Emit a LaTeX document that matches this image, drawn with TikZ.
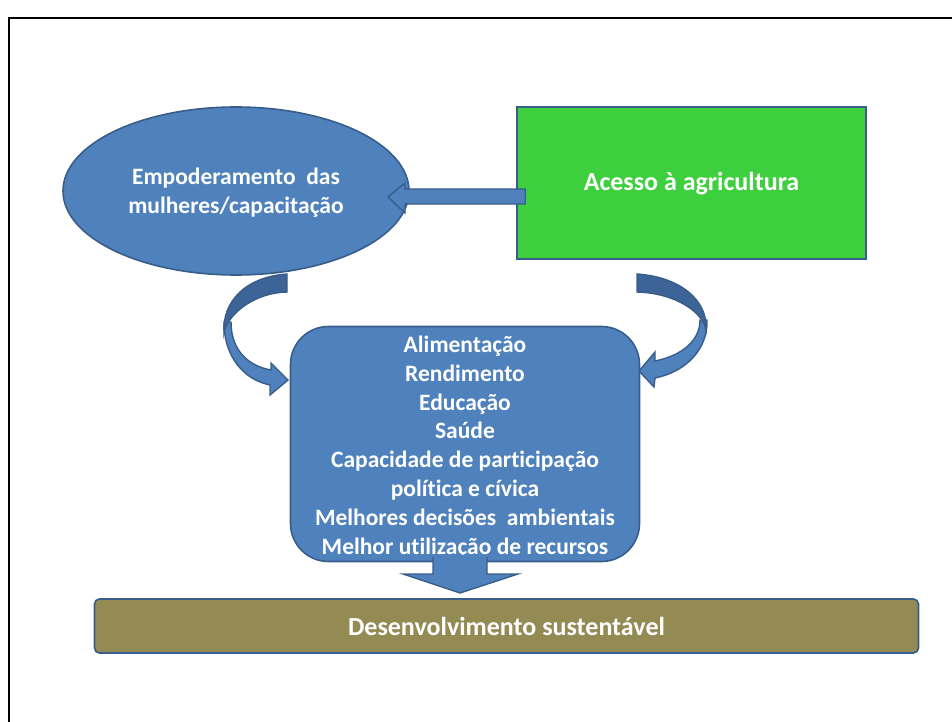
\documentclass[tikz,border=0pt]{standalone}
\usepackage{fontspec}
\setmainfont{Carlito}[Ligatures={NoCommon}]
\usetikzlibrary{shapes.geometric}
\definecolor{blfill}{RGB}{79,129,189}
\definecolor{bldraw}{RGB}{56,93,138}
\definecolor{bldark}{RGB}{60,100,150}
\definecolor{grfill}{RGB}{62,207,62}
\definecolor{brfill}{RGB}{148,138,84}
\tikzset{
  shapebox/.style={draw=bldraw, line width=1.6, inner sep=0},
  label text/.style={text=white, align=center, inner sep=0},
  blockarrow/.style={draw=bldraw, line width=1.4, fill=blfill, line join=miter},
  darkarrow/.style={draw=bldraw, line width=1.4, fill=bldark, line join=miter},
  listfont/.style={font=\bfseries\fontsize{23.5}{28.85}\selectfont},
  bigfont/.style={font=\bfseries\fontsize{26}{31}\selectfont}
}
\begin{document}
\begin{tikzpicture}[x=1pt,y=-1pt]
\useasboundingbox (0,0) rectangle (952,722);
\draw[line width=2] (9,722) -- (9,18) -- (952,18);

% ellipse
\node[shapebox, ellipse, fill=blfill, minimum width=346, minimum height=168] (emp) at (236,191) {};
\node[label text, listfont] (emptext) at ([yshift=-2]emp.center)
  {Empoderamento\ \ das\\mulheres/capacitação};

% green box
\node[shapebox, rectangle, fill=grfill, minimum width=349, minimum height=152] (acesso) at (691.5,183) {};
\node[label text, bigfont] (acessotext) at ([yshift=-1]acesso.center) {Acesso à agricultura};

% straight arrow from acesso to emp
\draw[blockarrow] ([xshift=9]acesso.west |- 0,189) -- (405,189) -- (405,183) -- (388,197)
  -- (405,213) -- (405,204) -- ([xshift=9]acesso.west |- 0,204) -- cycle;

% central rounded box
\node[shapebox, rectangle, rounded corners=38, fill=blfill, minimum width=349, minimum height=235] (outc) at (465,444) {};
\node[label text, listfont] (outctext) at ([yshift=-3]outc.center)
  {Alimentação\\Rendimento\\Educação\\Saúde\\Capacidade de participação\\política e cívica\\Melhores decisões\ \ ambientais\\Melhor utilização de recursos};

% bottom bar
\node[shapebox, rectangle, rounded corners=5, fill=brfill, minimum width=824, minimum height=54] (desenv) at (506.5,626) {};
\node[label text, bigfont] (desenvtext) at (desenv.center) {Desenvolvimento sustentável};

% down arrow from outc to desenv
\draw[blockarrow] (433,557) -- (433,574) -- (403,574) -- (460,593) -- (518,574) -- (487,574)
  -- (487,557);
\fill[blfill] (434.5,555) rectangle (485.5,566);

% left curved arrow
\draw[blockarrow] (224,322) .. controls (224,358) and (245,380) .. (270,385) -- (270,395)
  -- (288,380) -- (271,363) -- (271,370) .. controls (248,366) and (231,350) .. (231,322) -- cycle;
\draw[darkarrow] (287,274) .. controls (245,277) and (222,302) .. (224,333)
  .. controls (226,318) and (250,293) .. (287,292) -- cycle;

% right curved arrow
\draw[blockarrow] (707,320) .. controls (708,350) and (685,372) .. (655,378) -- (654,387)
  -- (639,371) -- (655,352) -- (655,361) .. controls (680,356) and (700,342) .. (700,320) -- cycle;
\draw[darkarrow] (637,274) .. controls (680,277) and (708,300) .. (706,330)
  .. controls (703,312) and (675,293) .. (637,292) -- cycle;
\end{tikzpicture}
\end{document}
